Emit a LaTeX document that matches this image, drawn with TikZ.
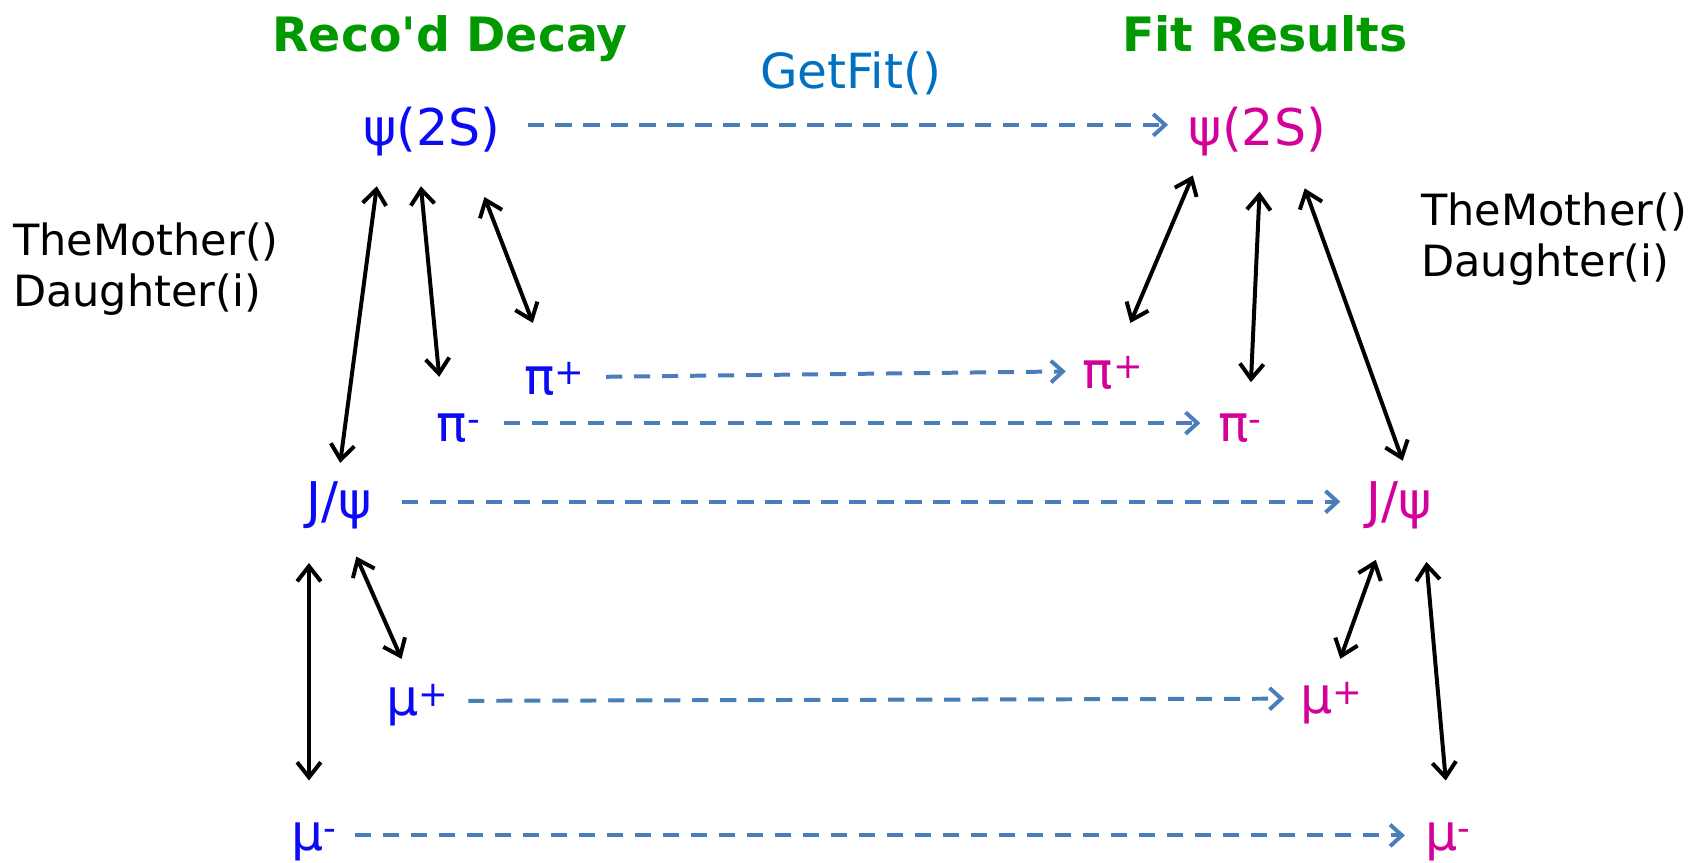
\documentclass[tikz,border=0pt]{standalone}
\usepackage{fontspec}
\setmainfont{DejaVu Sans}[Ligatures=TeXOff]
\usetikzlibrary{arrows.meta}
\definecolor{recoblue}{HTML}{0A0AF5}
\definecolor{fitmag}{HTML}{D4009A}
\definecolor{titlegreen}{HTML}{009A00}
\definecolor{getfitblue}{HTML}{0070C0}
\definecolor{dashblue}{HTML}{4A7EBB}
\tikzset{
  title/.style={font=\fontsize{44}{52}\selectfont\bfseries, text=titlegreen, inner sep=0pt},
  label/.style={font=\fontsize{40}{48}\selectfont, align=left, inner sep=0pt, anchor=west},
  reco/.style={font=\fontsize{47}{56}\selectfont, text=recoblue, inner sep=0pt, anchor=base},
  fit/.style={font=\fontsize{47}{56}\selectfont, text=fitmag, inner sep=0pt, anchor=base},
  fitlink/.style={draw=dashblue, line width=3.7pt, dash pattern=on 15pt off 11pt,
    -{Straight Barb[length=11pt,width=20pt,line width=3.7pt]}},
  rel/.style={draw=black, line width=3.7pt,
    {Straight Barb[length=14pt,width=22pt,line width=3.7pt]}-{Straight Barb[length=14pt,width=22pt,line width=3.7pt]}}
}
\begin{document}
\begin{tikzpicture}[x=1pt,y=-1pt]
\useasboundingbox (0,0) rectangle (1568,801);
% titles
\node[title] (titleL) at (418,36) {Reco'd Decay};
\node[title] (titleR) at (1175,31) {Fit Results};
\node[font=\fontsize{45}{54}\selectfont, text=getfitblue, inner sep=0pt] (getfit) at (790,68) {GetFit()};
\node[label] (mothL) at (12,250) {TheMother()\\Daughter(i)};
\node[label] (mothR) at (1320,222) {TheMother()\\Daughter(i)};
% reconstructed
\node[reco] (psiL) at (401,135) {ψ(2S)};
\node[reco] (pipL) at (515,366) {π\textsuperscript{+}};
\node[reco] (pimL) at (426,410) {π\textsuperscript{-}};
\node[reco] (jpsiL) at (315,482) {J/ψ};
\node[reco] (mupL) at (388,665) {μ\textsuperscript{+}};
\node[reco] (mumL) at (292,790) {μ\textsuperscript{-}};
% fitted
\node[fit] (psiR) at (1168,135) {ψ(2S)};
\node[fit] (pipR) at (1034,361) {π\textsuperscript{+}};
\node[fit] (pimR) at (1152,410) {π\textsuperscript{-}};
\node[fit] (jpsiR) at (1300,482) {J/ψ};
\node[fit] (mupR) at (1237,663) {μ\textsuperscript{+}};
\node[fit] (mumR) at (1345,790) {μ\textsuperscript{-}};
% GetFit links
\draw[fitlink] ([shift={(89,-19)}]psiL.base) -- ([shift={(-83,-19)}]psiR.base);
\draw[fitlink] ([shift={(48,-16)}]pipL.base) -- ([shift={(-44,-16)}]pipR.base);
\draw[fitlink] ([shift={(42,-17)}]pimL.base) -- ([shift={(-37,-17)}]pimR.base);
\draw[fitlink] ([shift={(58,-16)}]jpsiL.base) -- ([shift={(-55,-16)}]jpsiR.base);
\draw[fitlink] ([shift={(47,-14)}]mupL.base) -- ([shift={(-44,-14)}]mupR.base);
\draw[fitlink] ([shift={(38,-14)}]mumL.base) -- ([shift={(-40,-14)}]mumR.base);
% mother/daughter relations, left
\draw[rel] ([shift={(-51,38)}]psiL.base) -- ([shift={(1,-52)}]jpsiL.base);
\draw[rel] ([shift={(-10,38)}]psiL.base) -- ([shift={(-18,-60)}]pimL.base);
\draw[rel] ([shift={(49,48)}]psiL.base) -- ([shift={(-20,-66)}]pipL.base);
\draw[rel] ([shift={(-28,41)}]jpsiL.base) -- ([shift={(-5,-65)}]mumL.base);
\draw[rel] ([shift={(16,35)}]jpsiL.base) -- ([shift={(-15,-53)}]mupL.base);
% right
\draw[rel] ([shift={(-60,28)}]psiR.base) -- ([shift={(16,-61)}]pipR.base);
\draw[rel] ([shift={(2,43)}]psiR.base) -- ([shift={(10,-55)}]pimR.base);
\draw[rel] ([shift={(44,40)}]psiR.base) -- ([shift={(3,-54)}]jpsiR.base);
\draw[rel] ([shift={(-22,38)}]jpsiR.base) -- ([shift={(8,-51)}]mupR.base);
\draw[rel] ([shift={(25,40)}]jpsiR.base) -- ([shift={(-2,-65)}]mumR.base);
\end{tikzpicture}
\end{document}
